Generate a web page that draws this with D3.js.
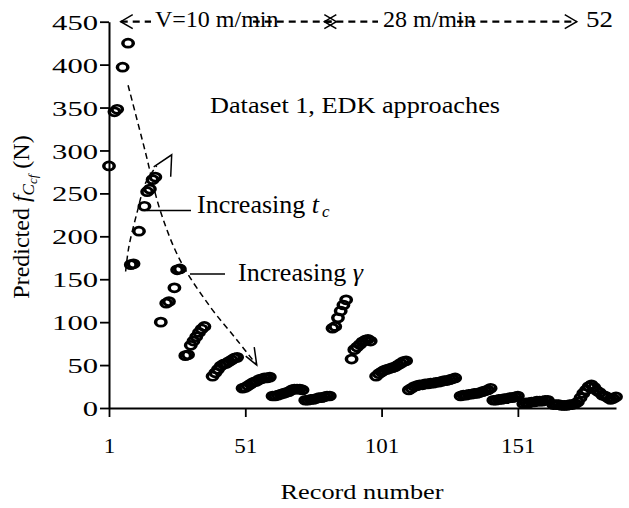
<!DOCTYPE html>
<html>
<head>
<meta charset="utf-8">
<script src="https://cdn.jsdelivr.net/npm/d3@7"></script>
<style>
    body { margin: 0; background: #fff; }
    svg { display: block; font-family: "Liberation Serif", "Times New Roman", Times, serif; }
</style>
</head>
<body>
<div id="chart"></div>
<script>
// record numbers and predicted force (N)
const records = [
    1, 3, 4, 6, 8,
    9, 10, 12, 14, 15, 16, 17, 18,
    20, 22, 23, 25, 26, 27,
    29, 30, 31, 32, 33, 34, 35, 36,
    39, 40, 41, 42, 43, 44, 45, 46, 47, 48,
    50, 51, 52, 53, 54, 55, 56, 57, 58, 59, 60,
    61, 62, 63, 64, 65, 66, 67, 68, 69, 70, 71, 72,
    73, 74, 75, 76, 77, 78, 79, 80, 81, 82,
    83, 84, 85, 86, 87, 88,
    90, 91, 92, 93, 94, 95, 96, 97,
    99, 100, 101, 102, 103, 104, 105, 106, 107, 108, 109, 110,
    111, 112, 113, 114, 115, 116, 117, 118, 119, 120, 121, 122, 123, 124, 125, 126, 127, 128,
    130, 131, 132, 133, 134, 135, 136, 137, 138, 139, 140, 141,
    142, 143, 144, 145, 146, 147, 148, 149, 150, 151,
    153, 154, 155, 156, 157, 158, 159, 160, 161, 162,
    164, 165, 166, 167, 168, 169, 170, 171, 172, 173,
    174, 175, 176, 177, 178, 179, 180, 181, 182, 183, 184, 185, 186, 187
];
const force = [
    282, 345, 348, 397, 425,
    167, 168, 206, 235, 252, 255, 266, 269,
    100, 122, 124, 140, 161, 162,
    61, 62, 73, 78, 83, 88, 92, 95,
    37, 41, 45, 49, 51, 52, 54, 56, 58, 59,
    23, 24, 26, 28, 30, 31, 33, 34, 35, 35, 36,
    14, 14, 15, 16, 17, 18, 19, 21, 22, 22, 22, 21,
    9, 9, 10, 10, 11, 12, 12, 13, 14, 14,
    93, 95, 105, 113, 120, 126,
    57, 68, 71, 74, 77, 79, 80, 78,
    37, 40, 42, 44, 45, 46, 47, 48, 50, 52, 54, 55,
    21, 23, 25, 26, 27, 27, 28, 28, 29, 29, 30, 30, 31, 32, 32, 33, 34, 35,
    14, 15, 15, 16, 16, 17, 17, 18, 19, 20, 21, 23,
    9, 9, 10, 10, 11, 11, 12, 12, 13, 14,
    5, 6, 6, 7, 7, 8, 8, 8, 9, 9,
    4, 4, 4, 3, 3, 3, 4, 4, 5, 7,
    12, 17, 21, 25, 27, 24, 20, 18, 15, 14, 12, 10, 11, 13
];

const xTicks = [1, 51, 101, 151];
const yTicks = [0, 50, 100, 150, 200, 250, 300, 350, 400, 450];

// cutting speed spans along the top (record numbers of the arrow tips)
const speedSpans = [[5.3, 84.4], [80.0, 172.6]];
const speedLabels = ["V=10 m/min", "28 m/min", "52"];

// dashed trend guides, in (record, force) units
const gammaPath = [[8, 376], [14.2, 300], [19.7, 231], [27.1, 172], [38.1, 118], [48, 79], [55.2, 50]];
const tcPath = [[7.1, 159], [8.3, 188], [11.4, 229], [14.4, 262], [18.5, 282], [24, 295]];

const width = 629, height = 508;
const serif = '"Liberation Serif", "Times New Roman", Times, serif';

const svg = d3.select("#chart")
    .append("svg")
    .attr("width", width)
    .attr("height", height);

const x = d3.scaleLinear()
    .domain([1, 187])
    .range([109, 616]);

const y = d3.scaleLinear()
    .domain([0, 450])
    .range([408, 21.7]);

// axes
const yAxis = svg.append("g")
    .attr("transform", "translate(109,0)")
    .call(d3.axisLeft(y).tickValues(yTicks).tickSize(9).tickSizeOuter(0))
    .attr("font-family", serif);
yAxis.select(".domain").attr("stroke", "#000").attr("stroke-width", 2);
yAxis.selectAll(".tick line").attr("stroke", "#000").attr("stroke-width", 1.8);
yAxis.selectAll(".tick text")
    .attr("x", -11)
    .attr("dy", "0.36em")
    .attr("font-size", 21)
    .attr("fill", "#000")
    .attr("textLength", d => String(d).length * 15.3)
    .attr("lengthAdjust", "spacingAndGlyphs");

const xAxis = svg.append("g")
    .attr("transform", "translate(0,408)")
    .call(d3.axisBottom(x).tickValues(xTicks).tickSize(9).tickSizeOuter(0).tickFormat(d3.format("d")))
    .attr("font-family", serif);
xAxis.select(".domain").attr("stroke", "#000").attr("stroke-width", 2);
xAxis.selectAll(".tick line").attr("stroke", "#000").attr("stroke-width", 1.8);
xAxis.selectAll(".tick text")
    .attr("y", 45)
    .attr("dy", 0)
    .attr("font-size", 21)
    .attr("fill", "#000")
    .attr("textLength", d => String(d).length * 11.5)
    .attr("lengthAdjust", "spacingAndGlyphs");

// axis titles
svg.append("text")
    .attr("x", 362)
    .attr("y", 499)
    .attr("text-anchor", "middle")
    .attr("font-size", 22)
    .attr("textLength", 163)
    .attr("lengthAdjust", "spacingAndGlyphs")
    .text("Record number");

const yTitle = svg.append("text")
    .attr("transform", "translate(29,217) rotate(-90)")
    .attr("text-anchor", "middle")
    .attr("font-size", 24);
yTitle.append("tspan").text("Predicted ");
yTitle.append("tspan").attr("font-style", "italic").text("f");
yTitle.append("tspan").attr("font-style", "italic").attr("font-size", 17).attr("dy", 5).text("C");
yTitle.append("tspan").attr("font-style", "italic").attr("font-size", 13).attr("dy", 3).text("cf");
yTitle.append("tspan").attr("dy", -8).text(" (N)");

// points: open rings, slightly wide as in the source
svg.append("g")
    .selectAll("g")
    .data(records.map((r, i) => ({r: r, v: force[i]})))
    .join("g")
    .attr("transform", d => `translate(${x(d.r)},${y(d.v)}) scale(1.3,1)`)
    .append("circle")
    .attr("r", 4)
    .attr("fill", "none")
    .attr("stroke", "#000")
    .attr("stroke-width", 2.7);

// speed arrows along the top
const topY = y(450);
const arrowHead = (g, tipX, tipY, dir) => {
    g.append("path")
        .attr("d", `M${tipX - dir * 12},${tipY - 7}L${tipX},${tipY}L${tipX - dir * 12},${tipY + 7}`)
        .attr("fill", "none")
        .attr("stroke", "#000")
        .attr("stroke-width", 1.5);
};
const speedG = svg.append("g");
speedSpans.forEach(s => {
    speedG.append("line")
        .attr("x1", x(s[0])).attr("x2", x(s[1]))
        .attr("y1", topY).attr("y2", topY)
        .attr("stroke", "#000")
        .attr("stroke-width", 2.2)
        .attr("stroke-dasharray", "7 5");
    arrowHead(speedG, x(s[0]), topY, -1);
    arrowHead(speedG, x(s[1]), topY, 1);
});
// text boxes with white fill hiding part of the dashed line
speedG.append("rect").attr("x", 151).attr("y", 8).attr("width", 102).attr("height", 24).attr("fill", "#fff");
speedG.append("rect").attr("x", 378).attr("y", 8).attr("width", 79).attr("height", 24).attr("fill", "#fff");
speedG.append("text").attr("x", 155).attr("y", 27).attr("font-size", 24).text(speedLabels[0]);
speedG.append("text").attr("x", 383).attr("y", 27).attr("font-size", 24).text(speedLabels[1]);
speedG.append("text").attr("x", 586).attr("y", 27).attr("font-size", 24)
    .attr("textLength", 27).attr("lengthAdjust", "spacingAndGlyphs").text(speedLabels[2]);

// dataset label
svg.append("text")
    .attr("x", 210)
    .attr("y", 113)
    .attr("font-size", 23)
    .attr("textLength", 290)
    .attr("lengthAdjust", "spacingAndGlyphs")
    .text("Dataset 1, EDK approaches");

// trend guides
const guide = d3.line()
    .x(d => x(d[0]))
    .y(d => y(d[1]))
    .curve(d3.curveCatmullRom.alpha(0.5));

svg.append("path")
    .attr("d", guide(gammaPath))
    .attr("fill", "none")
    .attr("stroke", "#000")
    .attr("stroke-width", 1.5)
    .attr("stroke-dasharray", "6 4");
const gTip = gammaPath[gammaPath.length - 1];
svg.append("path")
    .attr("d", `M${x(gTip[0]) - 11},${y(gTip[1]) - 9}L${x(gTip[0])},${y(gTip[1])}L${x(gTip[0]) - 2.5},${y(gTip[1]) - 18}`)
    .attr("fill", "none")
    .attr("stroke", "#000")
    .attr("stroke-width", 1.5);

svg.append("path")
    .attr("d", guide(tcPath.slice(0, tcPath.length - 1)))
    .attr("fill", "none")
    .attr("stroke", "#000")
    .attr("stroke-width", 1.5)
    .attr("stroke-dasharray", "6 4");
const tTip = tcPath[tcPath.length - 1];
svg.append("path")
    .attr("d", `M${x(tTip[0]) - 18},${y(tTip[1]) + 12}L${x(tTip[0])},${y(tTip[1])}L${x(tTip[0]) - 1},${y(tTip[1]) + 22}`)
    .attr("fill", "none")
    .attr("stroke", "#000")
    .attr("stroke-width", 1.5);

// leader lines and labels
svg.append("line")
    .attr("x1", 147).attr("x2", 191)
    .attr("y1", 210.5).attr("y2", 210.5)
    .attr("stroke", "#000").attr("stroke-width", 1.5);
const tcLabel = svg.append("text")
    .attr("x", 197)
    .attr("y", 213)
    .attr("font-size", 26);
tcLabel.append("tspan").text("Increasing ");
tcLabel.append("tspan").attr("font-style", "italic").text("t");
tcLabel.append("tspan").attr("font-style", "italic").attr("font-size", 17).attr("dx", 3).attr("dy", 4).text("c");

svg.append("line")
    .attr("x1", 190).attr("x2", 225)
    .attr("y1", 274).attr("y2", 274)
    .attr("stroke", "#000").attr("stroke-width", 1.5);
const gLabel = svg.append("text")
    .attr("x", 238)
    .attr("y", 281)
    .attr("font-size", 26);
gLabel.append("tspan").text("Increasing ");
gLabel.append("tspan").attr("font-style", "italic").text("γ");
</script>
</body>
</html>
